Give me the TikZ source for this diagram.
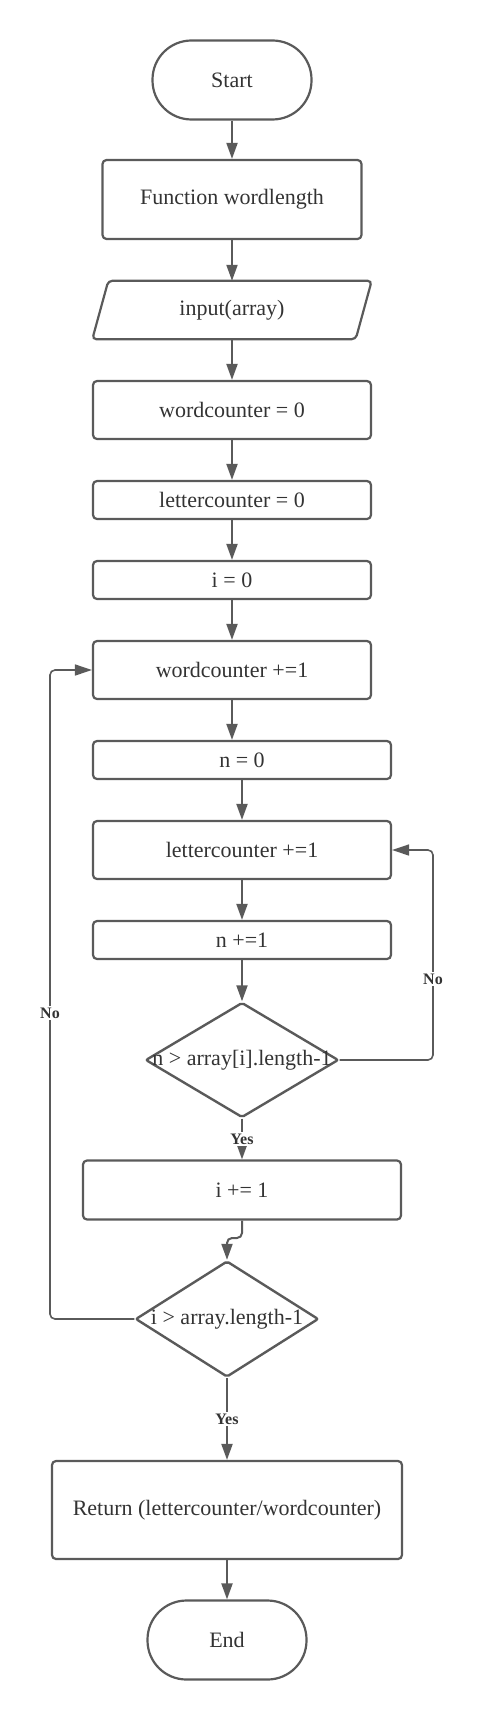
\documentclass[tikz,border=0pt]{standalone}
\usepackage{fontspec}
\setmainfont{Liberation Serif}
\usetikzlibrary{shapes.geometric,arrows.meta,calc}
\definecolor{lc}{RGB}{90,90,90}
\definecolor{tc}{RGB}{51,51,51}
\begin{document}
\begin{tikzpicture}[x=1pt,y=-1pt,
  box/.style={draw=lc, line width=2.2pt, rounded corners=4pt, text=tc, inner sep=0pt,
    font=\fontsize{22}{26}\selectfont},
  term/.style={box, rounded corners=39pt, minimum width=159pt, minimum height=79pt},
  dec/.style={diamond, draw=lc, line width=2.4pt, inner sep=0pt, rounded corners=2pt},
  conn/.style={draw=lc, line width=2pt, -{Triangle[length=16pt,width=11pt]}},
  loopc/.style={draw=lc, line width=1.6pt, rounded corners=5pt, -{Triangle[length=17pt,width=11pt]}},
  lab/.style={fill=white, text=tc, inner sep=2pt, font=\bfseries\fontsize{16}{18}\selectfont},
  dtext/.style={text=tc, font=\fontsize{22}{26}\selectfont}]
\useasboundingbox (0,0) rectangle (485,1720);

\node[term] (start) at (232,80) {Start};
\node[box, minimum width=259pt, minimum height=79pt] (func) at (232,199.5) {Function wordlength};
\node[text=tc, inner sep=0pt, minimum width=263pt, minimum height=58pt,
  font=\fontsize{22}{26}\selectfont] (in) at (232,310) {input(array)};
\draw[draw=lc, line width=2.2pt, rounded corners=4pt]
  ($(in.north west)+(8,0)$) -- ($(in.north east)+(8,0)$) -- ($(in.south east)+(-8,0)$)
  -- ($(in.south west)+(-8,0)$) -- cycle;
\node[box, minimum width=278pt, minimum height=58pt] (wc0) at (232,410) {wordcounter = 0};
\node[box, minimum width=278pt, minimum height=38pt] (lc0) at (232,500) {lettercounter = 0};
\node[box, minimum width=278pt, minimum height=38pt] (i0) at (232,580) {i = 0};
\node[box, minimum width=278pt, minimum height=58pt] (wc1) at (232,670) {wordcounter +=1};
\node[box, minimum width=298pt, minimum height=38pt] (n0) at (242,760) {n = 0};
\node[box, minimum width=298pt, minimum height=58pt] (lc1) at (242,850) {lettercounter +=1};
\node[box, minimum width=298pt, minimum height=38pt] (n1) at (242,940) {n +=1};
\node[dec, minimum width=193pt, minimum height=115pt] (d1) at (242,1060) {};
\node[dtext] at (d1) {n > array[i].length-1};
\node[box, minimum width=318pt, minimum height=59pt] (i1) at (242,1190) {i += 1};
\node[dec, minimum width=183pt, minimum height=116pt] (d2) at (227,1319) {};
\node[dtext] at (d2) {i > array.length-1};
\node[box, minimum width=350pt, minimum height=98pt] (ret) at (227,1510) {Return (lettercounter/wordcounter)};
\node[term] (end) at (227,1640) {End};

\coordinate (r1) at (433,1060);
\coordinate (l1) at (50,1319);
\coordinate (j1) at (227,1238);

\draw[conn] (start) -- (func);
\draw[conn] (func) -- (in);
\draw[conn] (in) -- (wc0);
\draw[conn] (wc0) -- (lc0);
\draw[conn] (lc0) -- (i0);
\draw[conn] (i0) -- (wc1);
\draw[conn] (wc1.south) -- (wc1.south |- n0.north);
\draw[conn] (n0) -- (lc1);
\draw[conn] (lc1) -- (n1);
\draw[conn] (n1) -- (d1);
\draw[conn] (d1.south) -- (i1.north) node[lab, midway] {Yes};
\draw[conn, rounded corners=5pt] (i1.south) |- (j1) -- (d2.north);
\draw[conn] (d2.south) -- (ret.north) node[lab, midway] {Yes};
\draw[conn] (ret) -- (end);
\draw[loopc] (d1.east) -- (r1) |- (lc1.east);
\node[lab] at (433,979) {No};
\draw[loopc] (d2.west) -- (l1) |- (wc1.west);
\node[lab] at (50,1013) {No};
\end{tikzpicture}
\end{document}
